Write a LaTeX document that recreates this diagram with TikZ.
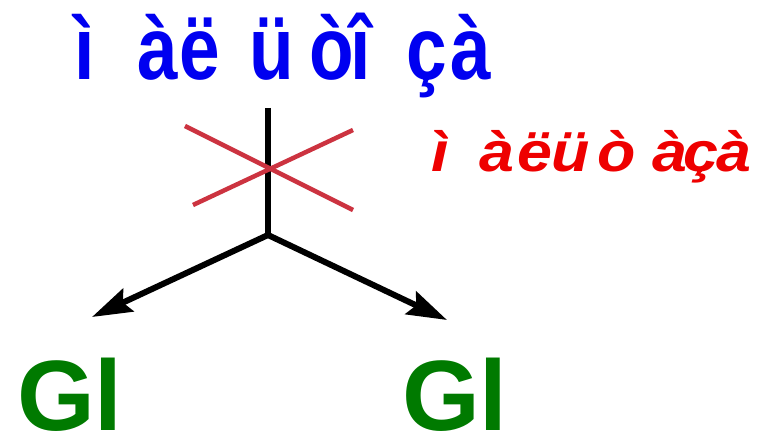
\documentclass[tikz,border=0pt]{standalone}
\usepackage{fontspec}
\setmainfont{Liberation Sans}
\usepackage{xcolor}
\usepackage{graphicx}
\usetikzlibrary{arrows.meta}
\definecolor{sugar-blue}{HTML}{0000F0}
\definecolor{enzyme-red}{HTML}{EE0000}
\definecolor{cross-red}{HTML}{CC3340}
\definecolor{glc-green}{HTML}{007A00}

\begin{document}
\begin{tikzpicture}[x=1pt, y=1pt,
        every node/.style={inner sep=0pt, outer sep=0pt}]
      \useasboundingbox (0,0) rectangle (763,438);
      \node[anchor=base west, text=sugar-blue, font=\fontsize{89}{89}\selectfont\bfseries]
            (substrate) at (74,358) {\scalebox{0.82}[1]{ì\kern52.8ptà\kern2.2ptë\kern35.2ptü\kern18.5ptò\kern-4.3ptî\kern43.8ptç\kern3.8ptà}};
      \node[anchor=base west, text=enzyme-red, font=\fontsize{56}{56}\selectfont\bfseries\itshape]
            (enzyme) at (431,266) {\scalebox{1.12}[1]{ì\kern28.2ptà\kern2.8ptë\kern-1.2ptü\kern6.5ptò\kern14.9ptà\kern-3.5ptç\kern-1.5ptà}};
      \node[anchor=base west, text=glc-green, font=\fontsize{100}{100}\selectfont\bfseries]
            (glcA) at (17,7) {Gl};
      \node[anchor=base west, text=glc-green, font=\fontsize{100}{100}\selectfont\bfseries]
            (glcB) at (402,7) {Gl};
      \coordinate (top) at (268,330);
      \coordinate (fork) at (268,203);
      \coordinate (leftEnd) at (92,121);
      \coordinate (rightEnd) at (447,118);
      \draw[line width=6pt] (top) -- (fork);
      \draw[line width=6pt, -{Stealth[length=40pt, width=25pt, inset=6pt]}] (fork) -- (leftEnd);
      \draw[line width=6pt, -{Stealth[length=40pt, width=25pt, inset=6pt]}] (fork) -- (rightEnd);
      % the bond is blocked
      \draw[cross-red, line width=4.5pt] (185,312) -- (353,228);
      \draw[cross-red, line width=4.5pt] (193,233) -- (353,308);
    \end{tikzpicture}
\end{document}
